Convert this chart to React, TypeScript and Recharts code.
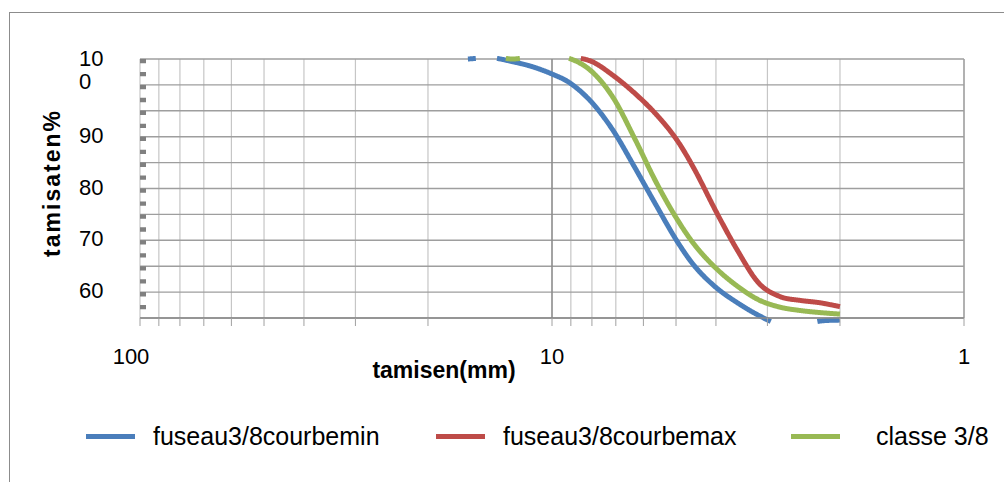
import React from 'react';
import { LineChart, Line, XAxis, YAxis, CartesianGrid, ReferenceLine } from 'recharts';

const FONT = '"Liberation Sans", Arial, sans-serif';

// sieve openings (mm) and passing percentages
const sieves = [16, 14, 12.5, 11.2, 10, 9, 8, 7.1, 6.3, 5.6, 5, 4.5, 4, 3.55, 3.15, 2.8, 2.5, 2.24, 2];
const fuseauMin = [105, 105.22, 104.5, 103.55, 102.1, 100.25, 96.6, 91.15, 84.1, 76.9, 70.15, 64.95, 60.9, 57.95, 55.5, 53.7, 53.55, 54.4, 54.6];
const fuseauMax = [null, null, null, null, null, 105.45, 104.5, 101.8, 98.4, 94.4, 89.6, 83.55, 75.6, 68.1, 61.75, 59.15, 58.4, 57.95, 57.2];
const classe = [105.3, 105.5, 105, 105.4, 105.35, 105, 102.55, 97.5, 89.65, 81.35, 74.4, 69.05, 64.6, 61.15, 58.5, 57.1, 56.45, 56.05, 55.75];

const xTicks = [1, 2, 3, 4, 5, 6, 7, 8, 9, 10, 20, 30, 40, 50, 60, 70, 80, 90, 100];
const xLabelTicks = [1, 10, 100];
const yTicks = [55, 60, 65, 70, 75, 80, 85, 90, 95, 100, 105];
const yLabelTicks = [60, 70, 80, 90, 100];

const seriesKeys = ['min', 'max', 'classe'];
const seriesNames = ['fuseau3/8courbemin', 'fuseau3/8courbemax', 'classe 3/8'];
const seriesColors = ['#4a7ebb', '#be4b48', '#98b954'];

const data = sieves.map((mm, i) => ({
    mm,
    min: fuseauMin[i],
    max: fuseauMax[i],
    classe: classe[i],
}));

const MARGIN = { top: 59, right: 40, bottom: 104, left: 60 };
const PLOT_TOP = MARGIN.top;
const PLOT_BOTTOM = 482 - MARGIN.bottom - 60;
const CLIP_TOP = PLOT_TOP - 0.6;
const CLIP_BOTTOM = PLOT_BOTTOM + 3.5;

// excel-like smoothed line: catmull-rom beziers, geometry cut where it leaves the plot
function excelSmooth(context: any) {
    let pts: number[][] = [];
    const inside = (y: number) => y >= CLIP_TOP && y <= CLIP_BOTTOM;
    return {
        areaStart() {},
        areaEnd() {},
        lineStart() {
            pts = [];
        },
        point(x: number, y: number) {
            pts.push([+x, +y]);
        },
        lineEnd() {
            const n = pts.length;
            if (!n) return;
            const s: number[][] = [pts[0]];
            for (let i = 0; i < n - 1; i++) {
                const p0 = pts[i - 1] || pts[i];
                const p1 = pts[i];
                const p2 = pts[i + 1];
                const p3 = pts[i + 2] || pts[i + 1];
                const c1 = [p1[0] + (p2[0] - p0[0]) / 6, p1[1] + (p2[1] - p0[1]) / 6];
                const c2 = [p2[0] - (p3[0] - p1[0]) / 6, p2[1] - (p3[1] - p1[1]) / 6];
                for (let k = 1; k <= 40; k++) {
                    const t = k / 40;
                    const u = 1 - t;
                    const a = u * u * u, b = 3 * u * u * t, c = 3 * u * t * t, d = t * t * t;
                    s.push([
                        a * p1[0] + b * c1[0] + c * c2[0] + d * p2[0],
                        a * p1[1] + b * c1[1] + c * c2[1] + d * p2[1],
                    ]);
                }
            }
            let down = false;
            for (let j = 0; j < s.length; j++) {
                const [x, y] = s[j];
                if (inside(y)) {
                    if (!down) {
                        if (j > 0) {
                            const [px, py] = s[j - 1];
                            const edge = py < CLIP_TOP ? CLIP_TOP : CLIP_BOTTOM;
                            const f = (edge - py) / (y - py);
                            context.moveTo(px + f * (x - px), edge);
                        } else {
                            context.moveTo(x, y);
                        }
                        down = true;
                    }
                    context.lineTo(x, y);
                } else if (down) {
                    const [px, py] = s[j - 1];
                    const edge = y < CLIP_TOP ? CLIP_TOP : CLIP_BOTTOM;
                    const f = (edge - py) / (y - py);
                    context.lineTo(px + f * (x - px), edge);
                    down = false;
                }
            }
        },
    };
}

const XTick = (props: any) => {
    const { x, y, payload } = props;
    const v = payload.value;
    if (!xLabelTicks.includes(v)) return <g />;
    return (
        <text x={x + (v === 100 ? -9 : 0)} y={y + 36} textAnchor="middle" fontSize={22} fill="#000" fontFamily={FONT}>
            {v}
        </text>
    );
};

const YTick = (props: any) => {
    const { x, y, payload } = props;
    const v = payload.value;
    if (!yLabelTicks.includes(v)) return <g />;
    const left = x - 53;
    if (v === 100) {
        const s = String(v);
        return (
            <text fontSize={22} fill="#000" fontFamily={FONT} textAnchor="start">
                <tspan x={left} y={y - 19}>{s.slice(0, 2)}</tspan>
                <tspan x={left} y={y + 4}>{s.slice(2)}</tspan>
            </text>
        );
    }
    return (
        <text x={left} y={y + 6} fontSize={22} fill="#000" fontFamily={FONT} textAnchor="start">
            {v}
        </text>
    );
};

export default function App() {
    return (
        <div style={{ position: 'absolute', left: 0, top: 0, width: 1004, height: 482, overflow: 'hidden', background: '#fff', fontFamily: FONT }}>
            <style>{'.recharts-wrapper *, .recharts-surface [clip-path] { clip-path: none !important; }'}</style>
            <div style={{ position: 'absolute', left: 9, top: 12, width: 1100, height: 600, border: '1px solid #8c8c8c' }} />
            <LineChart
                width={1004}
                height={482}
                data={data}
                margin={MARGIN}
                style={{ position: 'absolute', left: 0, top: 0 }}
            >
                <CartesianGrid horizontal={false} stroke="#c6c6c6" strokeWidth={1.2} />
                <CartesianGrid vertical={false} stroke="#9e9e9e" strokeWidth={1.4} />
                <ReferenceLine x={10} stroke="#8a8a8a" strokeWidth={1.4} />
                <ReferenceLine x={1} stroke="#9e9e9e" strokeWidth={1.4} />
                <XAxis
                    dataKey="mm"
                    type="number"
                    scale="log"
                    domain={[1, 100]}
                    reversed
                    ticks={xTicks}
                    interval={0}
                    tickSize={8}
                    tickLine={{ stroke: '#a0a0a0' }}
                    axisLine={{ stroke: '#8a8a8a', strokeWidth: 1.4 }}
                    tick={<XTick />}
                    height={60}
                    allowDataOverflow
                />
                <YAxis
                    type="number"
                    domain={[55, 105]}
                    ticks={yTicks}
                    interval={0}
                    allowDataOverflow
                    width={80}
                    tickLine={false}
                    tick={<YTick />}
                    axisLine={{ stroke: '#808080', strokeWidth: 6, strokeDasharray: '4.3 8.65', transform: 'translate(3 0)' }}
                />
                {seriesKeys.map((k, i) => (
                    <Line
                        key={k}
                        dataKey={k}
                        name={seriesNames[i]}
                        stroke={seriesColors[i]}
                        strokeWidth={5}
                        type={excelSmooth as any}
                        dot={false}
                        activeDot={false}
                        isAnimationActive={false}
                    />
                ))}
            </LineChart>
            <svg width={1004} height={482} style={{ position: 'absolute', left: 0, top: 0, pointerEvents: 'none' }}>
                <text x={444} y={370} textAnchor="middle" dominantBaseline="central" fontSize={23} fontWeight="bold" fontFamily={FONT}>
                    tamisen(mm)
                </text>
                <text
                    x={52}
                    y={183}
                    textAnchor="middle"
                    dominantBaseline="central"
                    fontSize={23}
                    fontWeight="bold"
                    letterSpacing={2}
                    fontFamily={FONT}
                    transform="rotate(-90 52 183)"
                >
                    tamisaten%
                </text>
            </svg>
            <div style={{ position: 'absolute', left: 86, top: 421, display: 'flex', alignItems: 'center', fontSize: 25, lineHeight: '30px', color: '#000' }}>
                {seriesNames.map((name, i) => (
                    <div key={name} style={{ display: 'flex', alignItems: 'center', width: i === 0 ? 350 : i === 1 ? 355 : 'auto' }}>
                        <div style={{ width: 49, height: 5, background: seriesColors[i] }} />
                        <span style={{ marginLeft: i === 2 ? 36 : 18, whiteSpace: 'nowrap' }}>{name}</span>
                    </div>
                ))}
            </div>
        </div>
    );
}
